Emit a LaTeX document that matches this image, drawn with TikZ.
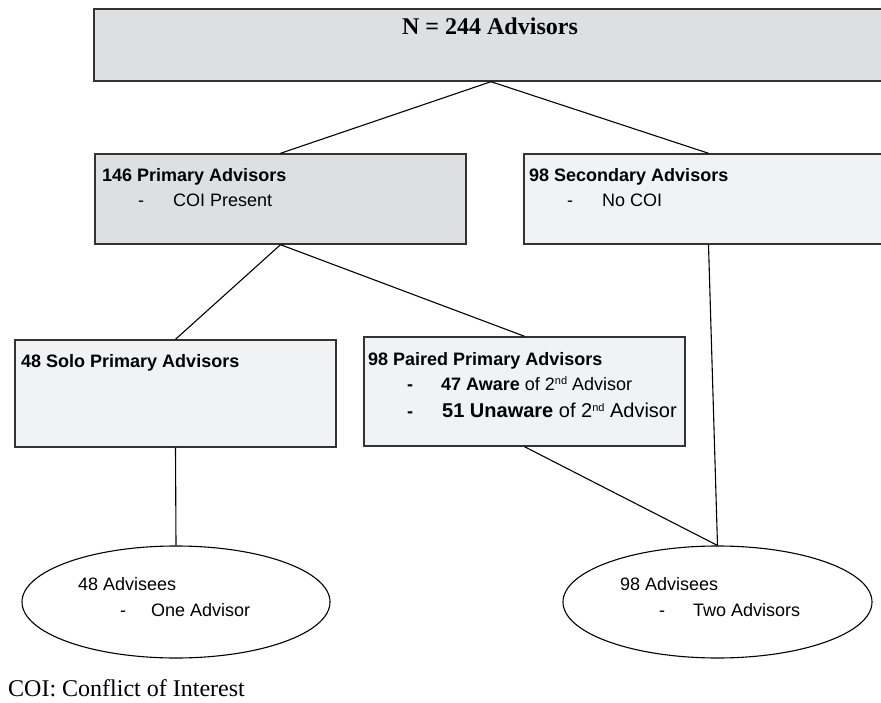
\documentclass[tikz,border=0pt]{standalone}
\usepackage{fontspec}
\setmainfont{Liberation Serif}
\newfontfamily\arialfont{Liberation Sans}
\usetikzlibrary{shapes.geometric}

\definecolor{boxdark}{HTML}{DEDFE1}
\definecolor{boxlight}{HTML}{F1F2F4}
\definecolor{edgegray}{HTML}{333333}

\newcommand{\sz}[1]{\fontsize{#1}{#1}\selectfont}
\newcommand{\ord}[1]{\raisebox{0.55ex}{\sz{11}#1}}

\tikzset{
  boxnode/.style={draw=edgegray, line width=1.4pt, rectangle, inner sep=0pt},
  ovalnode/.style={draw=black, line width=1.1pt, ellipse, inner sep=0pt,
    minimum width=308pt, minimum height=112pt},
  link/.style={draw=black, line width=1.1pt},
  headtext/.style={anchor=base west, inner sep=0pt, font=\arialfont\bfseries\sz{18}},
  bodytext/.style={anchor=base west, inner sep=0pt, font=\arialfont\sz{18}},
}

\begin{document}
\begin{tikzpicture}[x=1pt, y=-1pt]
  \useasboundingbox (0,0) rectangle (881,703);
  \clip (0,0) rectangle (881,703);
  \fill[white] (0,0) rectangle (881,703);

  % boxes
  \node[boxnode, fill=boxdark, minimum width=794pt, minimum height=72pt] (all) at (491,45) {};
  \node[boxnode, fill=boxdark, minimum width=371pt, minimum height=90pt] (prim) at (280.5,199) {};
  \node[boxnode, fill=boxlight, minimum width=369pt, minimum height=90pt] (sec) at (708.5,199) {};
  \node[boxnode, fill=boxlight, minimum width=321pt, minimum height=107pt] (solo) at (175.5,393.5) {};
  \node[boxnode, fill=boxlight, minimum width=321pt, minimum height=109pt] (pair) at (524.5,391.5) {};
  \node[ovalnode] (one) at (176,602) {};
  \node[ovalnode, minimum width=309pt] (two) at (717.5,602) {};

  % connectors
  \draw[link] (all.south) -- (prim.north);
  \draw[link] (all.south) -- (sec.north);
  \draw[link] (prim.south) -- (solo.north);
  \draw[link] (prim.south) -- (pair.north);
  \draw[link] (sec.south) -- (two.north);
  \draw[link] (pair.south) -- (two.north);
  \draw[link] (solo.south) -- (one.north);

  % texts
  \node[anchor=base, inner sep=0pt, font=\bfseries\sz{24}] (allT) at (490,35) {N = 244 Advisors};

  \node[headtext] (primT) at (102,182) {146 Primary Advisors};
  \node[bodytext] (primD) at (138,207) {-};
  \node[bodytext] (primL) at (173,207) {COI Present};

  \node[headtext] (secT) at (529,182) {98 Secondary Advisors};
  \node[bodytext] (secD) at (567,207) {-};
  \node[bodytext] (secL) at (602,207) {No COI};

  \node[headtext] (soloT) at (21,367) {48 Solo Primary Advisors};

  \node[headtext] (pairT) at (368,365) {98 Paired Primary Advisors};
  \node[headtext] (pairD1) at (407,390) {-};
  \node[bodytext] (pairL1) at (441,390) {\textbf{47 Aware} of 2\ord{nd} Advisor};
  \node[headtext] (pairD2) at (407,417) {-};
  \node[bodytext, font=\arialfont\sz{20}] (pairL2) at (442,417) {\textbf{51 Unaware} of 2\ord{nd} Advisor};

  \node[bodytext] (oneT) at (78,590) {48 Advisees};
  \node[bodytext] (oneD) at (120,616) {-};
  \node[bodytext] (oneL) at (151,616) {One Advisor};

  \node[bodytext] (twoT) at (620,590) {98 Advisees};
  \node[bodytext] (twoD) at (659,616) {-};
  \node[bodytext] (twoL) at (693,616) {Two Advisors};

  \node[anchor=base west, inner sep=0pt, font=\sz{24}] (note) at (8,696) {COI: Conflict of Interest};
\end{tikzpicture}
\end{document}
